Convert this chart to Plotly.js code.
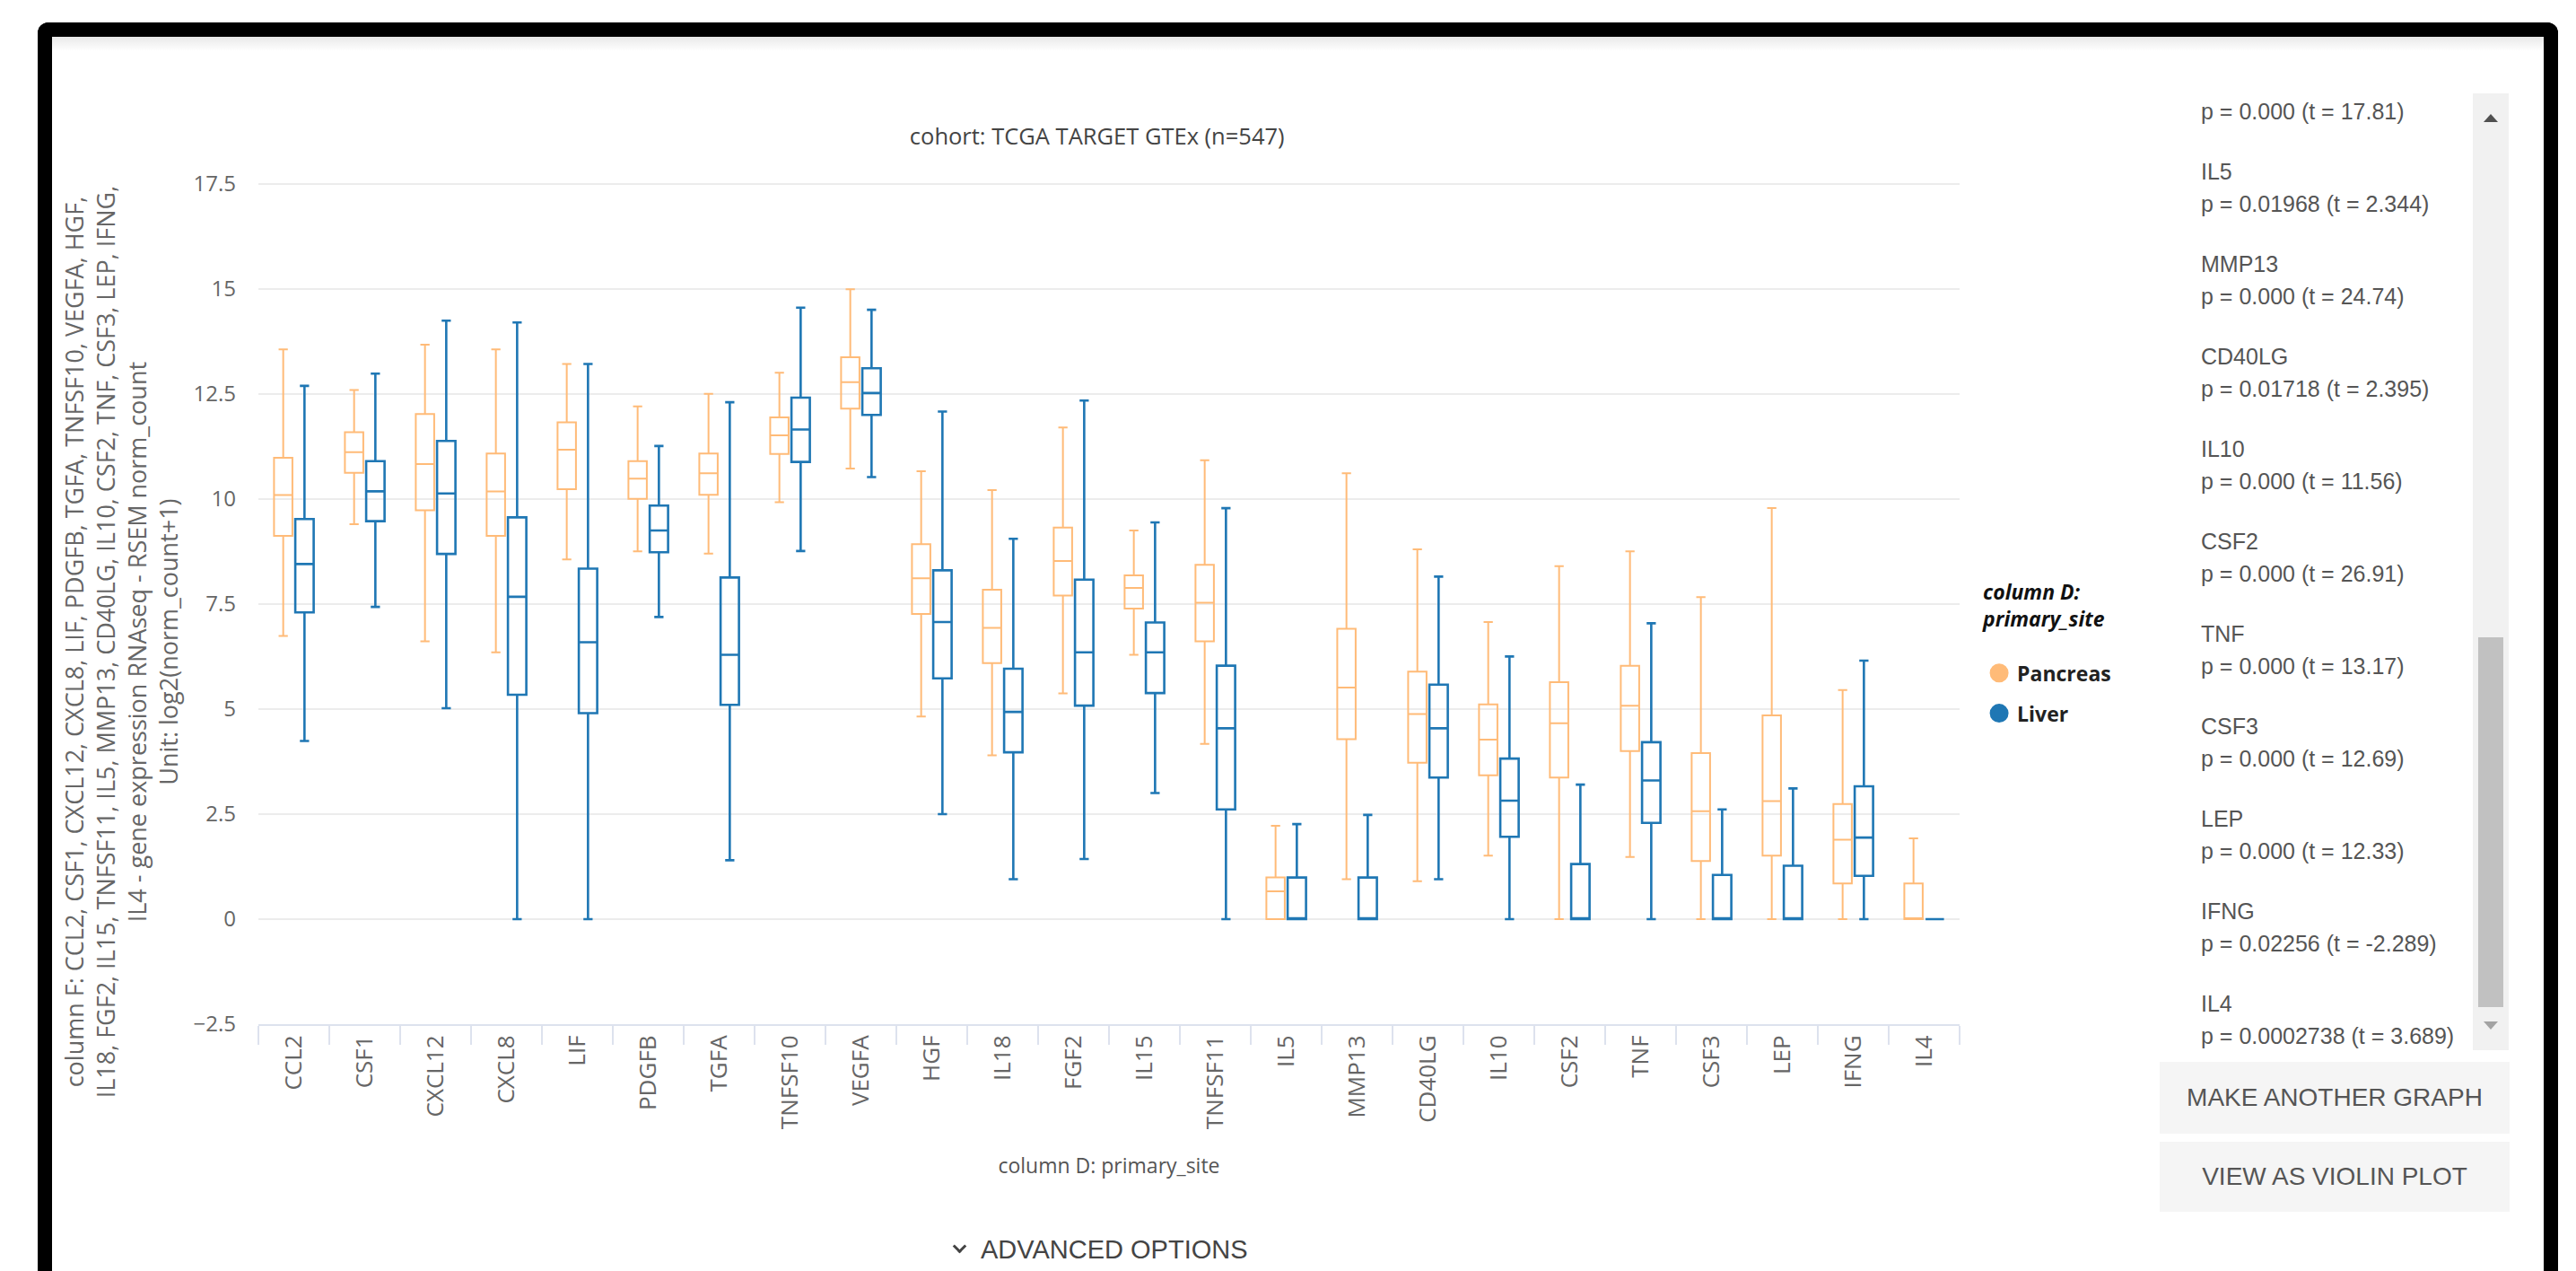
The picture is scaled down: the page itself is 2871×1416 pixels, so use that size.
<!DOCTYPE html>
<html>
<head>
<meta charset="utf-8">
<script src="https://cdn.plot.ly/plotly-3.0.1.min.js"></script>
<style>
html, body { margin:0; padding:0; background:#fff; width:2871px; height:1416px; overflow:hidden; font-family:"Liberation Sans", Arial, sans-serif; }
#frame { position:absolute; left:42px; top:25px; width:2809px; height:1430px; box-sizing:border-box; border:16px solid #000; border-bottom:none; border-radius:12px 12px 0 0; background:#fff; }
#band { position:absolute; left:58px; top:41px; width:2777px; height:16px; background:linear-gradient(#e9e9e9, #ffffff); }
#chart { position:absolute; left:57px; top:41px; width:2330px; height:1330px; }
#plist { position:absolute; left:2453px; top:104px; width:300px; height:1066px; overflow:hidden; color:#555; font-size:25px; line-height:36px; white-space:nowrap; }
#plist .first { margin-top:2px; margin-bottom:31px; }
#plist .entry { margin-bottom:31px; }
#track { position:absolute; left:2756px; top:104px; width:40px; height:1066px; background:#f1f1f1; }
#thumb { position:absolute; left:2762px; top:710px; width:28px; height:412px; background:#c1c1c1; }
#up { position:absolute; left:2768px; top:127px; width:0; height:0; border-left:8px solid transparent; border-right:8px solid transparent; border-bottom:9px solid #505050; }
#down { position:absolute; left:2768px; top:1138px; width:0; height:0; border-left:8px solid transparent; border-right:8px solid transparent; border-top:9px solid #a3a3a3; }
.btn { position:absolute; left:2407px; width:390px; background:#f5f5f5; color:#555; font-size:28px; text-align:center; }
#btn1 { top:1183px; height:80px; line-height:80px; }
#btn2 { top:1272px; height:78px; line-height:78px; }
#adv { position:absolute; left:1064px; top:1372px; height:40px; line-height:40px; color:#444; font-size:29px; white-space:nowrap; }
#adv .chev { display:inline-block; width:8px; height:8px; border-right:3px solid #444; border-bottom:3px solid #444; transform:rotate(45deg); margin-right:18px; position:relative; top:-8px; }
</style>
</head>
<body>
<div id="frame"></div>
<div id="band"></div>
<div id="chart"></div>
<div id="track"></div>
<div id="thumb"></div>
<div id="up"></div>
<div id="down"></div>
<div id="plist"></div>
<div class="btn" id="btn1">MAKE ANOTHER GRAPH</div>
<div class="btn" id="btn2">VIEW AS VIOLIN PLOT</div>
<div id="adv"><span class="chev"></span>ADVANCED OPTIONS</div>
<script>
// ---- chart data ----
const genes = ['CCL2','CSF1','CXCL12','CXCL8','LIF','PDGFB','TGFA','TNFSF10','VEGFA','HGF','IL18','FGF2','IL15','TNFSF11','IL5','MMP13','CD40LG','IL10','CSF2','TNF','CSF3','LEP','IFNG','IL4'];

// Pancreas box statistics
const pancLower  = [6.74, 9.40, 6.61, 6.35, 8.56, 8.75, 8.70, 9.92,10.72, 4.82, 3.90, 5.37, 6.29, 4.17, 0.00, 0.95, 0.90, 1.51, 0.00, 1.48, 0.00, 0.00, 0.00, 0.00];
const pancQ1     = [9.12,10.62, 9.73, 9.12,10.23,10.00,10.10,11.07,12.15, 7.26, 6.09, 7.70, 7.39, 6.61, 0.00, 4.28, 3.72, 3.42, 3.37, 4.00, 1.38, 1.51, 0.85, 0.00];
const pancMedian = [10.09,11.11,10.83,10.18,11.17,10.48,10.61,11.51,12.78,8.11, 6.93, 8.52, 7.88, 7.53, 0.66, 5.51, 4.88, 4.27, 4.66, 5.08, 2.57, 2.81, 1.89, 0.00];
const pancQ3     = [10.98,11.59,12.02,11.08,11.82,10.90,11.08,11.94,13.37,8.92, 7.84, 9.32, 8.18, 8.43, 0.99, 6.91, 5.89, 5.11, 5.64, 6.03, 3.95, 4.85, 2.74, 0.85];
const pancUpper  = [13.56,12.59,13.67,13.56,13.21,12.20,12.50,13.00,14.99,10.66,10.21,11.70,9.25,10.92, 2.22,10.61, 8.80, 7.07, 8.40, 8.75, 7.66, 9.78, 5.45, 1.92];

// Liver box statistics
const livLower   = [4.24, 7.43, 5.02, 0.00, 0.00, 7.19, 1.40, 8.76,10.52, 2.50, 0.95, 1.43, 3.00, 0.00, 0.00, 0.00, 0.95, 0.00, 0.00, 0.00, 0.00, 0.00, 0.00, 0.00];
const livQ1      = [7.30, 9.47, 8.69, 5.34, 4.90, 8.73, 5.10,10.88,12.00, 5.73, 3.97, 5.08, 5.38, 2.61, 0.00, 0.00, 3.37, 1.96, 0.00, 2.29, 0.00, 0.00, 1.03, 0.00];
const livMedian  = [8.45,10.18,10.13, 7.67, 6.59, 9.25, 6.29,11.65,12.52, 7.07, 4.93, 6.35, 6.35, 4.54, 0.00, 0.00, 4.54, 2.82, 0.00, 3.30, 0.00, 0.00, 1.94, 0.00];
const livQ3      = [9.52,10.90,11.38, 9.56, 8.34, 9.84, 8.13,12.41,13.11, 8.30, 5.96, 8.08, 7.06, 6.03, 0.99, 0.99, 5.58, 3.82, 1.31, 4.21, 1.05, 1.27, 3.16, 0.00];
const livUpper   = [12.69,12.98,14.24,14.20,13.21,11.26,12.30,14.55,14.50,12.08,9.05,12.34, 9.44, 9.78, 2.26, 2.48, 8.15, 6.25, 3.20, 7.04, 2.61, 3.11, 6.15, 0.00];

const siteNames = ['Pancreas', 'Liver'];
const siteColors = ['#ffbb78', '#1f77b4'];

const yTitleLines = [
  'column F: CCL2, CSF1, CXCL12, CXCL8, LIF, PDGFB, TGFA, TNFSF10, VEGFA, HGF,',
  'IL18, FGF2, IL15, TNFSF11, IL5, MMP13, CD40LG, IL10, CSF2, TNF, CSF3, LEP, IFNG,',
  'IL4 - gene expression RNAseq - RSEM norm_count',
  'Unit: log2(norm_count+1)'
];

// ---- side panel text (t-test results) ----
const firstPLine = 'p = 0.000 (t = 17.81)';
const statGenes = ['IL5','MMP13','CD40LG','IL10','CSF2','TNF','CSF3','LEP','IFNG','IL4'];
const statLines = ['p = 0.01968 (t = 2.344)','p = 0.000 (t = 24.74)','p = 0.01718 (t = 2.395)','p = 0.000 (t = 11.56)','p = 0.000 (t = 26.91)','p = 0.000 (t = 13.17)','p = 0.000 (t = 12.69)','p = 0.000 (t = 12.33)','p = 0.02256 (t = -2.289)','p = 0.0002738 (t = 3.689)'];

const plist = document.getElementById('plist');
const f = document.createElement('div'); f.className = 'first'; f.textContent = firstPLine; plist.appendChild(f);
statGenes.forEach((g, i) => {
  const d = document.createElement('div'); d.className = 'entry';
  const a = document.createElement('div'); a.textContent = g;
  const b = document.createElement('div'); b.textContent = statLines[i];
  d.appendChild(a); d.appendChild(b); plist.appendChild(d);
});

// ---- traces ----
const stats = [
  {lower: pancLower, q1: pancQ1, med: pancMedian, q3: pancQ3, upper: pancUpper, lw: 2},
  {lower: livLower, q1: livQ1, med: livMedian, q3: livQ3, upper: livUpper, lw: 2.6}
];
const traces = [];
stats.forEach((s, i) => {
  traces.push({
    type: 'box', name: siteNames[i], x: genes,
    q1: s.q1, median: s.med, q3: s.q3, lowerfence: s.lower, upperfence: s.upper,
    boxpoints: false, whiskerwidth: 0.5,
    line: {color: siteColors[i], width: s.lw},
    fillcolor: 'rgba(255,255,255,0)',
    showlegend: false, hoverinfo: 'skip'
  });
});
siteNames.forEach((n, i) => {
  traces.push({
    type: 'scatter', mode: 'markers', name: n, x: [null], y: [null],
    marker: {color: siteColors[i], size: 16, line: {color: siteColors[i], width: 5}},
    legendgroup: n, showlegend: true, hoverinfo: 'skip'
  });
});

const layout = {
  width: 2330, height: 1330,
  margin: {l: 231, r: 203, t: 152, b: 230},
  paper_bgcolor: 'rgba(0,0,0,0)', plot_bgcolor: 'rgba(0,0,0,0)',
  font: {family: '"Open Sans", sans-serif', color: '#666'},
  title: {text: 'cohort: TCGA TARGET GTEx (n=547)', font: {size: 25.5, color: '#444'},
          x: 0.493, xref: 'paper', xanchor: 'center', y: 0.9165, yref: 'container', yanchor: 'middle'},
  boxmode: 'group', boxgap: 0.4, boxgroupgap: 0.135,
  xaxis: {
    type: 'category', categoryorder: 'array', categoryarray: genes,
    tickangle: -90, tickson: 'boundaries', ticks: 'outside', ticklen: 21, tickwidth: 2, tickcolor: '#dde2ee',
    showline: true, linecolor: '#dde2ee', linewidth: 2, showgrid: false, zeroline: false,
    tickfont: {size: 26, color: '#666'},
    title: {text: 'column D: primary_site', font: {size: 23, color: '#555'}, standoff: 34},
    automargin: false
  },
  yaxis: {
    range: [-2.5, 17.75], dtick: 2.5, tick0: 0,
    gridcolor: '#ececec', gridwidth: 2, zeroline: false, showline: false,
    tickfont: {size: 24, color: '#666'}, ticklabelstandoff: 24,
    automargin: false
  },
  annotations: [{
    text: yTitleLines.join('<br>'), textangle: -90, showarrow: false,
    xref: 'paper', yref: 'paper', x: -0.0807, y: 0.449, xanchor: 'center', yanchor: 'middle',
    align: 'center', font: {size: 27, color: '#666'}
  }],
  legend: {
    x: 1.0127, xanchor: 'left', y: 0.53, yanchor: 'top',
    bgcolor: 'rgba(0,0,0,0)', itemwidth: 30, tracegroupgap: 12,
    font: {size: 23, color: '#222', weight: 'bold'},
    title: {text: 'column D:<br>primary_site<br>\u00a0', font: {size: 23, color: '#111', weight: 'bold', style: 'italic'}}
  },
  showlegend: true
};

Plotly.newPlot('chart', traces, layout, {displayModeBar: false, staticPlot: true});
</script>
</body>
</html>
